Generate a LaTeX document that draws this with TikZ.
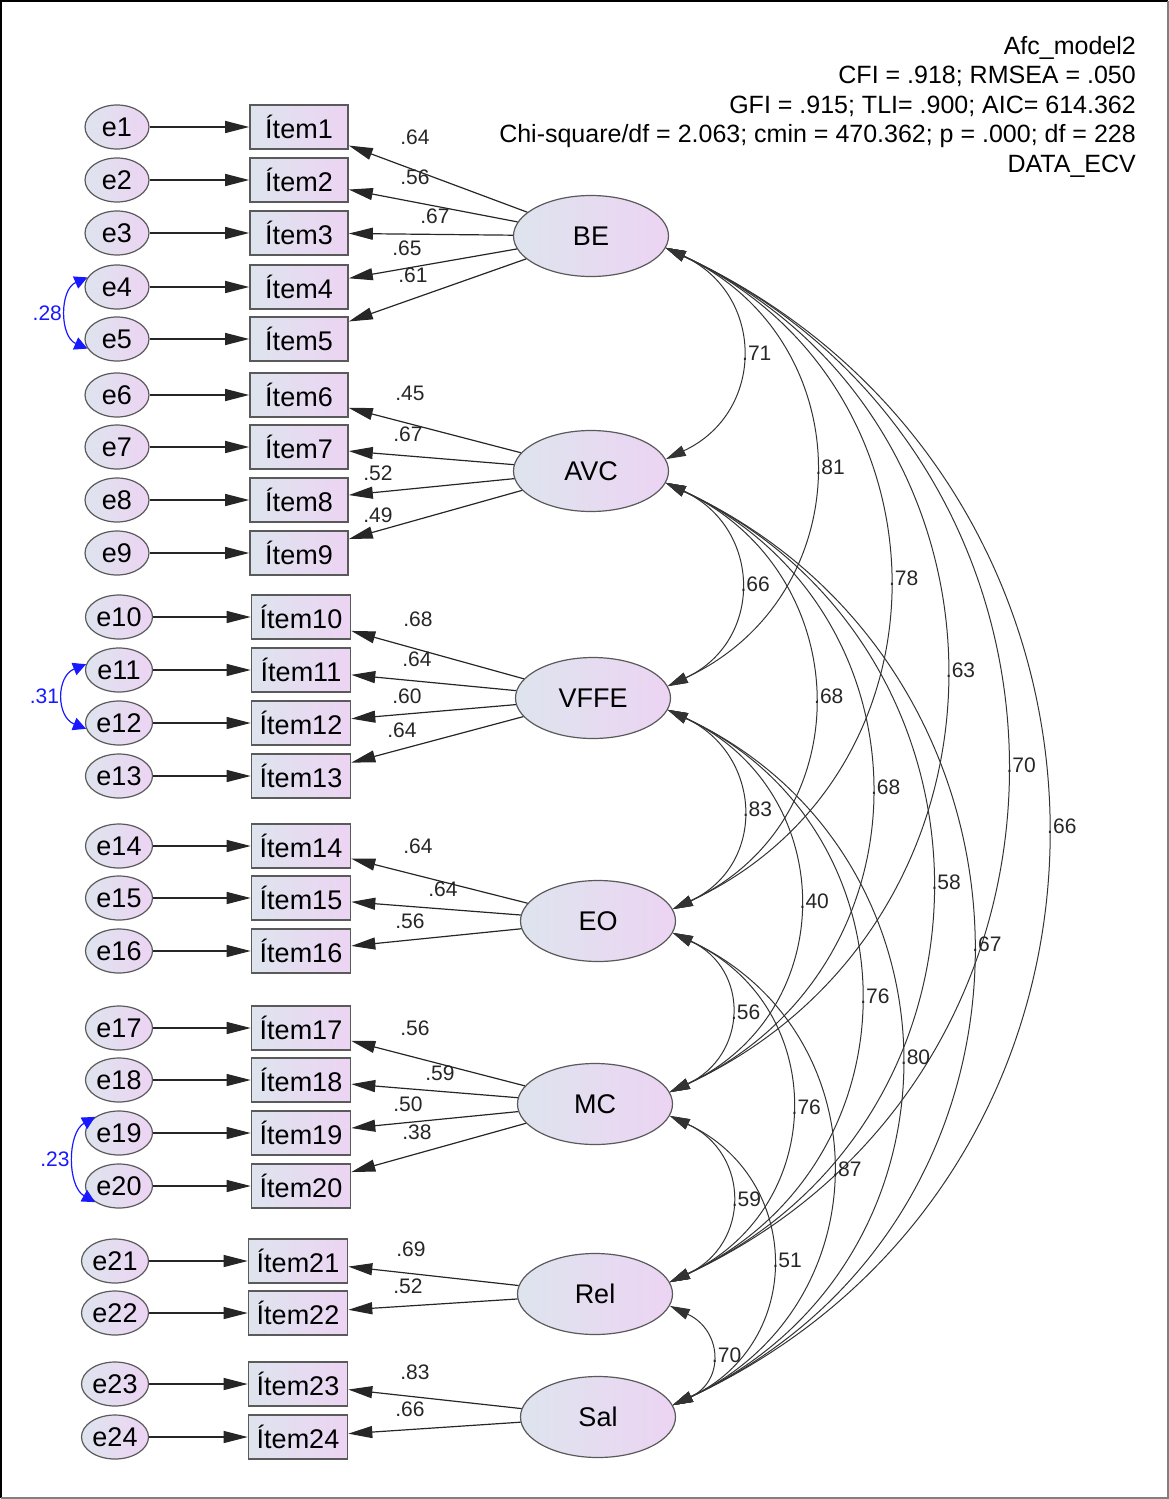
\documentclass[tikz,border=0pt]{standalone}
\usepackage{fontspec}
\setmainfont{Liberation Sans}
\usetikzlibrary{arrows.meta,shapes.geometric}
\definecolor{fillL}{RGB}{222,228,238}
\definecolor{fillR}{RGB}{236,212,243}
\definecolor{edgegray}{RGB}{90,90,90}
\definecolor{covblue}{RGB}{25,25,255}
\newcommand\fcov[5]{\draw[covar] (#1.-9) .. controls +({0.425*#3},{0.198*#3}) and +({0.425*#3},{-0.198*#3}) .. (#2.9) node[coef, midway, anchor=west, inner sep=1pt] (#5) {#4};}
\begin{document}
\begin{tikzpicture}[x=1pt,y=-1pt,
  shaded/.style={left color=fillL, right color=fillR},
  errnode/.style={ellipse, draw=edgegray, line width=1.2pt, shaded, minimum width=64pt, minimum height=44pt, inner sep=0pt, font=\fontsize{27}{30}\selectfont},
  errwide/.style={errnode, minimum width=67pt},
  itembox/.style={rectangle, draw=edgegray, line width=1.6pt, shaded, minimum width=98pt, minimum height=44pt, inner sep=0pt, font=\fontsize{27}{30}\selectfont},
  itemwide/.style={itembox, minimum width=99pt},
  factor/.style={ellipse, draw=edgegray, line width=1.2pt, shaded, minimum width=155pt, minimum height=81pt, inner sep=0pt, font=\fontsize{27}{30}\selectfont},
  coef/.style={font=\fontsize{21}{22}\selectfont, inner sep=0pt, text=black!85},
  bluecoef/.style={coef, text=covblue},
  arr/.style={draw=black!85, line width=1.2pt, -{Triangle[length=24pt,width=12pt]}},
  covar/.style={draw=black!80, line width=1pt, {Triangle[length=20pt,width=11pt]}-{Triangle[length=20pt,width=11pt]}},
  ecov/.style={draw=covblue, line width=1.2pt, {Triangle[length=13pt,width=13pt]}-{Triangle[length=13pt,width=13pt]}}
]
\useasboundingbox (0,0) rectangle (1169,1499);
\draw[black, line width=2pt] (1,1498) -- (1,1) -- (1168,1);
\draw[gray, line width=2pt] (1168,1) -- (1168,1498) -- (1,1498);

% fit statistics
\node[anchor=north east, align=right, inner sep=0pt, font=\fontsize{25}{29.5}\selectfont] (fit) at (1136,36)
 {Afc\_model2\\CFI = .918; RMSEA = .050\\GFI = .915; TLI= .900; AIC= 614.362\\Chi-square/df = 2.063; cmin = 470.362; p = .000; df = 228\\DATA\_ECV};

% error terms and items
\foreach \n/\r in {1/127,2/180,3/233,4/287,5/339,6/395,7/447,8/500,9/553}{
  \node[errnode] (e\n) at (117,\r) {e\n};
  \node[itembox] (i\n) at (299,\r) {Ítem\n};
  \draw[arr] (e\n) -- (i\n);
}
\foreach \n/\r in {10/617,11/670,12/723,13/776,14/846,15/898,16/951,17/1028,18/1080,19/1133,20/1186}{
  \node[errwide] (e\n) at (119,\r) {e\n};
  \node[itemwide] (i\n) at (301,\r) {Ítem\n};
  \draw[arr] (e\n) -- (i\n);
}
\foreach \n/\r in {21/1261,22/1313,23/1384,24/1437}{
  \node[errwide] (e\n) at (115,\r) {e\n};
  \node[itemwide] (i\n) at (298,\r) {Ítem\n};
  \draw[arr] (e\n) -- (i\n);
}

% factors
\node[factor] (BE) at (591,236) {BE};
\node[factor] (AVC) at (591,471) {AVC};
\node[factor] (VFFE) at (593,698) {VFFE};
\node[factor] (EO) at (598,921) {EO};
\node[factor] (MC) at (595,1104) {MC};
\node[factor] (Rel) at (595,1294) {Rel};
\node[factor] (Sal) at (598,1417) {Sal};

% loadings
\foreach \i in {1,...,5}{\draw[arr] (BE) -- (i\i);}
\foreach \i in {6,...,9}{\draw[arr] (AVC) -- (i\i);}
\foreach \i in {10,...,13}{\draw[arr] (VFFE) -- (i\i);}
\foreach \i in {14,15,16}{\draw[arr] (EO) -- (i\i);}
\foreach \i in {17,...,20}{\draw[arr] (MC) -- (i\i);}
\foreach \i in {21,22}{\draw[arr] (Rel) -- (i\i);}
\foreach \i in {23,24}{\draw[arr] (Sal) -- (i\i);}

\foreach \nm/\xx/\yy/\t in {l1/415/137/.64, l2/415/177/.56, l3/435/216/.67, l4/407/248/.65, l5/413/275/.61,
  l6/410/393/.45, l7/408/434/.67, l8/378/473/.52, l9/378/515/.49,
  l10/418/619/.68, l11/417/659/.64, l12/407/696/.60, l13/402/730/.64,
  l14/418/846/.64, l15/443/889/.64, l16/410/921/.56,
  l17/415/1028/.56, l18/440/1073/.59, l19/408/1104/.50, l20/417/1132/.38,
  l21/411/1249/.69, l22/408/1286/.52, l23/415/1372/.83, l24/410/1409/.66}{
  \node[coef] (\nm) at (\xx,\yy) {\t};
}

% error covariances
\draw[ecov] (e4.162) .. controls +(-28,12) and +(-28,-12) .. (e5.198) node[bluecoef, midway, anchor=east, inner sep=4pt] (c45) {.28};
\draw[ecov] (e11.170) .. controls +(-30,12) and +(-30,-12) .. (e12.190) node[bluecoef, midway, anchor=east, inner sep=4pt] (c1112) {.31};
\draw[ecov] (e19.146) .. controls +(-28,16) and +(-28,-16) .. (e20.214) node[bluecoef, midway, anchor=east, inner sep=4pt] (c1920) {.23};

% factor covariances
\fcov{BE}{AVC}{235}{.71}{k1}
\fcov{BE}{VFFE}{462}{.81}{k2}
\fcov{BE}{EO}{685}{.78}{k3}
\fcov{BE}{MC}{868}{.63}{k4}
\fcov{BE}{Rel}{1058}{.70}{k5}
\fcov{BE}{Sal}{1181}{.66}{k6}
\fcov{AVC}{VFFE}{227}{.66}{k7}
\fcov{AVC}{EO}{450}{.68}{k8}
\fcov{AVC}{MC}{633}{.68}{k9}
\fcov{AVC}{Rel}{823}{.58}{k10}
\fcov{AVC}{Sal}{946}{.67}{k11}
\fcov{VFFE}{EO}{223}{.83}{k12}
\fcov{VFFE}{MC}{406}{.40}{k13}
\fcov{VFFE}{Rel}{596}{.76}{k14}
\fcov{VFFE}{Sal}{719}{.80}{k15}
\fcov{EO}{MC}{183}{.56}{k16}
\fcov{EO}{Rel}{373}{.76}{k17}
\fcov{EO}{Sal}{496}{.87}{k18}
\fcov{MC}{Rel}{190}{.59}{k19}
\fcov{MC}{Sal}{313}{.51}{k20}
\fcov{Rel}{Sal}{123}{.70}{k21}
\end{tikzpicture}
\end{document}
